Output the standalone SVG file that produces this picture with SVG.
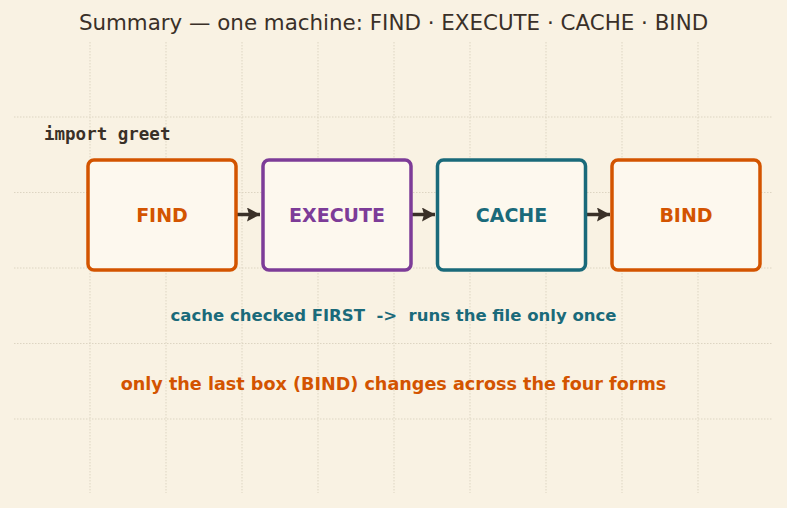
<svg xmlns="http://www.w3.org/2000/svg" width="787" height="508" viewBox="0 0 787 508">
<style>
.grid{stroke:#ddd5c2;stroke-width:1;stroke-dasharray:1.5 1.5;fill:none}
.box{fill:#fdf8ee;stroke-width:3.5}
.lbl{font-family:"DejaVu Sans",sans-serif;font-weight:bold;font-size:19px;text-anchor:middle}
.conn{stroke:#3a3028;stroke-width:3.5;fill:none}
</style>
<defs>
<marker id="ah" viewBox="0 0 13 14" refX="13" refY="7" markerWidth="13" markerHeight="14" orient="auto" markerUnits="userSpaceOnUse">
<path d="M0,0 L13,7 L0,14 L2,7 z" fill="#3a3028"/>
</marker>
</defs>
<rect width="787" height="508" fill="#f9f2e3"/>
<g id="grid">
<path class="grid" d="M90,42V493M166,42V493M242,42V493M318,42V493M394,42V493M470,42V493M546,42V493M622,42V493M698,42V493"/>
<path class="grid" d="M14,117H772M14,192.5H772M14,268H772M14,343.5H772M14,419H772"/>
</g>
<text x="393.5" y="30" font-family="DejaVu Sans,sans-serif" font-size="21.4" fill="#3a3028" text-anchor="middle">Summary — one machine: FIND · EXECUTE · CACHE · BIND</text>
<text x="44" y="140" font-family="DejaVu Sans Mono,monospace" font-weight="bold" font-size="17.5" fill="#3a3028">import greet</text>
<g id="connectors">
<line class="conn" x1="237" y1="214.5" x2="260" y2="214.5" marker-end="url(#ah)"/>
<line class="conn" x1="412" y1="214.5" x2="435" y2="214.5" marker-end="url(#ah)"/>
<line class="conn" x1="587" y1="214.5" x2="610" y2="214.5" marker-end="url(#ah)"/>
</g>
<g id="find">
<rect class="box" x="88" y="160" width="148" height="110" rx="6" stroke="#d35400"/>
<text class="lbl" x="162" y="221.5" fill="#d35400">FIND</text>
</g>
<g id="execute">
<rect class="box" x="263" y="160" width="148" height="110" rx="6" stroke="#7d3c98"/>
<text class="lbl" x="337" y="221.5" fill="#7d3c98">EXECUTE</text>
</g>
<g id="cache">
<rect class="box" x="437.5" y="160" width="148" height="110" rx="6" stroke="#1a6a7a"/>
<text class="lbl" x="511.5" y="221.5" fill="#1a6a7a">CACHE</text>
</g>
<g id="bind">
<rect class="box" x="612" y="160" width="148" height="110" rx="6" stroke="#d35400"/>
<text class="lbl" x="686" y="221.5" fill="#d35400">BIND</text>
</g>
<text x="393.5" y="321" font-family="DejaVu Sans,sans-serif" font-weight="bold" font-size="16.5" fill="#1a6a7a" text-anchor="middle" xml:space="preserve">cache checked FIRST  -&gt;  runs the file only once</text>
<text x="393.5" y="389.5" font-family="DejaVu Sans,sans-serif" font-weight="bold" font-size="17.6" fill="#d35400" text-anchor="middle">only the last box (BIND) changes across the four forms</text>
</svg>
